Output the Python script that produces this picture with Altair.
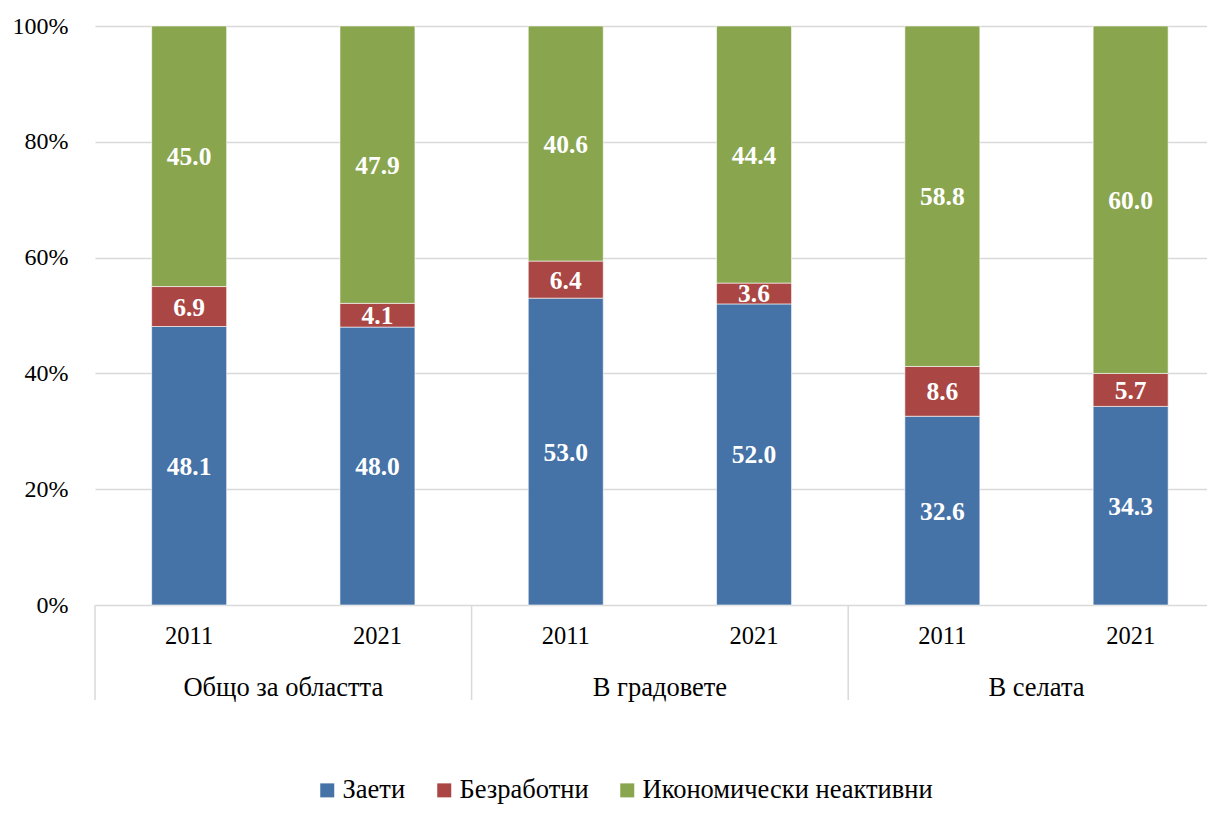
import altair as alt
import pandas as pd

groups = ["Общо за областта", "В градовете", "В селата"]
years = ["2011", "2021", "2011", "2021", "2011", "2021"]
series = ["Заети", "Безработни", "Икономически неактивни"]
employed = [48.1, 48.0, 53.0, 52.0, 32.6, 34.3]
unemployed = [6.9, 4.1, 6.4, 3.6, 8.6, 5.7]
inactive = [45.0, 47.9, 40.6, 44.4, 58.8, 60.0]
colors = ["#4572A7", "#AA4643", "#89A54E"]
y_ticks = [0, 0.2, 0.4, 0.6, 0.8, 1.0]

FONT = "Times New Roman, Liberation Serif, serif"
W, H = 1112, 579

rows = []
for i in range(6):
    for k, vals in enumerate([employed, unemployed, inactive]):
        rows.append(dict(pos=i + 0.5, group=groups[i // 2], year=years[i],
                         series=series[k], ord=k, value=vals[i],
                         label=f"{vals[i]:.1f}"))
df = pd.DataFrame(rows)
df_years = pd.DataFrame({"pos": [i + 0.5 for i in range(6)], "year": years})
df_groups = pd.DataFrame({"center": [1.0, 3.0, 5.0], "group": groups})
df_sep = pd.DataFrame({"sep": [0.0, 2.0, 4.0]})

xscale = alt.Scale(domain=[0, W / 188.3], nice=False, zero=False, padding=0)
yscale = alt.Scale(domain=[0, 1], nice=False)

bars = alt.Chart(df).mark_bar(size=75, stroke="white", strokeWidth=0.6).encode(
    x=alt.X("pos:Q", scale=xscale, axis=None),
    y=alt.Y("value:Q", stack="normalize", scale=yscale,
            axis=alt.Axis(format=".0%", values=y_ticks, title=None)),
    color=alt.Color("series:N", scale=alt.Scale(domain=series, range=colors),
                    legend=alt.Legend(title=None, orient="none", legendX=219, legendY=751,
                                      direction="horizontal", symbolType="square",
                                      symbolSize=196, symbolStrokeWidth=0, padding=0,
                                      labelFont=FONT, labelFontSize=26.5, labelColor="black",
                                      labelLimit=500, columnPadding=25, labelOffset=2)),
    order=alt.Order("ord:Q", sort="ascending"),
)

labels = alt.Chart(df).transform_stack(
    stack="value", groupby=["pos"], sort=[alt.SortField("ord", order="ascending")],
    as_=["v0", "v1"], offset="normalize"
).transform_calculate(mid="(datum.v0 + datum.v1) / 2").mark_text(
    font=FONT, fontSize=25.5, fontWeight="bold", color="white", baseline="middle", dy=1
).encode(
    x=alt.X("pos:Q", scale=xscale, axis=None),
    y=alt.Y("mid:Q", scale=yscale),
    text="label:N",
)

year_text = alt.Chart(df_years).mark_text(
    font=FONT, fontSize=24.5, color="black", baseline="middle"
).encode(
    x=alt.X("pos:Q", scale=xscale, axis=None),
    y=alt.value(H + 32),
    text="year:N",
)

group_text = alt.Chart(df_groups).mark_text(
    font=FONT, fontSize=26.5, color="black", baseline="middle"
).encode(
    x=alt.X("center:Q", scale=xscale, axis=None),
    y=alt.value(H + 83),
    text="group:N",
)

seps = alt.Chart(df_sep).mark_rule(color="#d9d9d9", strokeWidth=1.5).encode(
    x=alt.X("sep:Q", scale=xscale, axis=None),
    y=alt.value(H),
    y2=alt.value(H + 95),
)

chart = alt.layer(bars, labels, year_text, group_text, seps).properties(
    width=W, height=H,
    autosize=alt.AutoSizeParams(type="none"),
    padding={"left": 87, "top": 18, "right": 0, "bottom": 201},
).configure_view(stroke=None).configure_axisY(
    grid=True, gridColor="#d9d9d9", gridWidth=1.5, domain=False, ticks=False,
    labelFont=FONT, labelFontSize=24, labelColor="black", labelPadding=27,
)

chart.save("out.html", embed_options={"renderer": "svg", "actions": False})
